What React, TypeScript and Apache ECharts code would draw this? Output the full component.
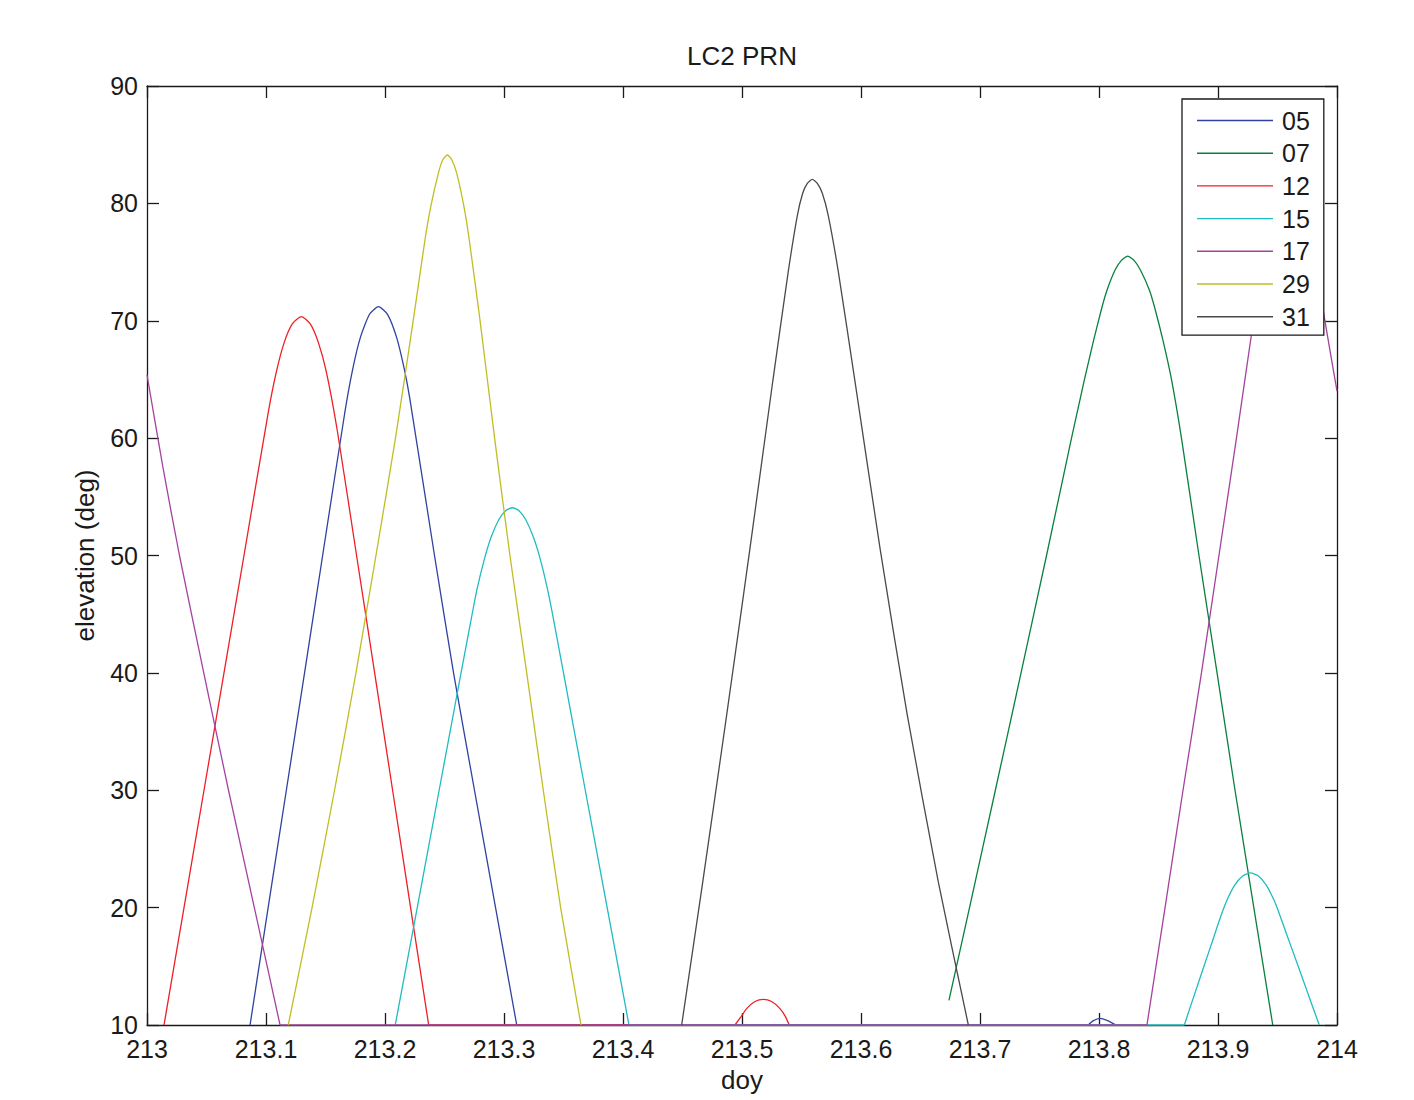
import React, { useEffect, useRef } from 'react';
import * as echarts from 'echarts';

// Satellite PRN labels and their line colours
const prnNames = ['05', '07', '12', '15', '17', '29', '31'];
const prnColors = ['#2f42a0', '#08803f', '#ee1f26', '#1fbcc0', '#a5429f', '#c0be22', '#4a4a4a'];

// Elevation (deg) against day of year, as [doy, elevation]; one list per visible pass
const prn05a: [number, number][] = [
  [213.0866, 10], [213.1018, 20], [213.1171, 30], [213.1324, 40], [213.1476, 50],
  [213.1661, 62.1], [213.1727, 65.8], [213.1794, 68.6], [213.187, 70.55], [213.1945, 71.2],
  [213.2021, 70.55], [213.2097, 68.6], [213.2164, 65.8], [213.2208, 63.4], [213.2416, 50],
  [213.2576, 40], [213.2752, 30], [213.2929, 20], [213.3107, 10],
];
const prn05b: [number, number][] = [
  [213.791, 10], [213.795, 10.35], [213.8008, 10.57], [213.8067, 10.4], [213.8143, 10],
];
const prn07a: [number, number][] = [
  [213.6739, 12.09], [213.6912, 20], [213.7129, 30], [213.7345, 40], [213.7559, 50],
  [213.7769, 60], [213.7878, 65], [213.7954, 68.3], [213.8021, 71], [213.8067, 72.6],
  [213.8134, 74.3], [213.8185, 75.1], [213.8241, 75.5], [213.8298, 75.1], [213.8349, 74.3],
  [213.8424, 72.6], [213.8471, 71], [213.8538, 68.3], [213.8609, 65], [213.8693, 60],
  [213.884, 50], [213.8992, 40], [213.9143, 30], [213.9301, 20], [213.946, 10],
];
const prn12a: [number, number][] = [
  [213.0143, 10], [213.0311, 20], [213.0479, 30], [213.0647, 40], [213.0815, 50],
  [213.1019, 62.2], [213.1087, 65.65], [213.1154, 68.18], [213.1221, 69.74], [213.1297, 70.35],
  [213.1372, 69.74], [213.1439, 68.18], [213.1507, 65.65], [213.1599, 60.65], [213.1761, 50],
  [213.1913, 40], [213.2064, 30], [213.2215, 20], [213.2367, 10],
];
const prn12b: [number, number][] = [
  [213.4941, 10], [213.4994, 10.74], [213.5039, 11.4], [213.5109, 12.0], [213.5179, 12.19],
  [213.5249, 12.0], [213.5319, 11.4], [213.5364, 10.74], [213.5397, 10],
];
const prn15a: [number, number][] = [
  [213.2086, 10], [213.2271, 20], [213.2455, 30], [213.2639, 40], [213.2729, 44.83],
  [213.2772, 47.07], [213.2832, 49.57], [213.2892, 51.57], [213.2957, 53.07], [213.3012, 53.8],
  [213.307, 54.07], [213.3128, 53.8], [213.3182, 53.07], [213.3247, 51.57], [213.3308, 49.57],
  [213.3367, 47.07], [213.3411, 44.83], [213.35, 40], [213.3683, 30], [213.3867, 20],
  [213.405, 10],
];
const prn15b: [number, number][] = [
  [213.8717, 10], [213.8799, 12.5], [213.8882, 15], [213.8965, 17.5], [213.9019, 19.13],
  [213.9074, 20.6], [213.9139, 21.9], [213.9207, 22.7], [213.9273, 22.96], [213.934, 22.7],
  [213.9407, 21.9], [213.9472, 20.6], [213.951, 19.62], [213.9585, 17.5], [213.9674, 15],
  [213.9762, 12.5], [213.9851, 10],
];
const prn17a: [number, number][] = [
  [213.0, 65.4], [213.0134, 57.5], [213.0273, 50], [213.0477, 40], [213.0685, 30],
  [213.0902, 20], [213.1118, 10],
];
const prn17b: [number, number][] = [
  [213.8403, 10], [213.8555, 20], [213.8706, 30], [213.8861, 40], [213.9008, 50],
  [213.9155, 60], [213.9298, 70], [213.942, 78], [213.9513, 82.5], [213.9597, 84],
  [213.9681, 82.5], [213.9773, 78], [213.9895, 70.2], [214.0, 64],
];
const prn29a: [number, number][] = [
  [213.1187, 10], [213.1387, 20], [213.1576, 30], [213.1756, 40], [213.1924, 50],
  [213.2088, 60], [213.2238, 70.07], [213.2336, 76.9], [213.2384, 79.7], [213.2448, 82.56],
  [213.2485, 83.7], [213.2524, 84.12], [213.2562, 83.7], [213.2603, 82.56], [213.2664, 79.7],
  [213.2708, 76.9], [213.2798, 70.07], [213.2921, 60], [213.305, 50], [213.3191, 40],
  [213.333, 30], [213.3476, 20], [213.3647, 10],
];
const prn31a: [number, number][] = [
  [213.4493, 10], [213.467, 22.17], [213.4871, 36.4], [213.5067, 50.6], [213.5258, 64.8],
  [213.5389, 74.2], [213.5465, 78.96], [213.551, 80.86], [213.5549, 81.7], [213.5591, 82.04],
  [213.5633, 81.7], [213.5675, 80.86], [213.5725, 78.96], [213.5809, 74.2], [213.595, 64.8],
  [213.616, 50.6], [213.6389, 36.4], [213.665, 22.17], [213.6902, 10],
];
const prnPasses = [
  [prn05a, prn05b],
  [prn07a],
  [prn12a, prn12b],
  [prn15a, prn15b],
  [prn17a, prn17b],
  [prn29a],
  [prn31a],
];

// Axis ranges and tick spacing
const xMin = 213;
const xMax = 214;
const xStep = 0.1;
const yMin = 10;
const yMax = 90;
const yStep = 10;

const FONT = '"Liberation Sans", Arial, Helvetica, sans-serif';
const INK = '#1a1a1a';

function buildSeries() {
  const out: any[] = [];
  prnNames.forEach((name, i) => {
    const color = prnColors[i];
    const base = {
      name,
      type: 'line',
      xAxisIndex: 0,
      yAxisIndex: 0,
      symbol: 'none',
      showSymbol: false,
      clip: false,
      color,
      lineStyle: { color, width: 1.3 },
    };
    const passes = prnPasses[i];
    passes.forEach((pass, k) => {
      // curved pass above the mask
      out.push({ ...base, data: pass, smooth: 0.2 });
      // straight join along the mask to the next pass
      if (k < passes.length - 1) {
        const next = passes[k + 1];
        out.push({ ...base, data: [pass[pass.length - 1], next[0]], smooth: false });
      }
    });
  });
  return out;
}

export default function App() {
  const ref = useRef<HTMLDivElement>(null);

  useEffect(() => {
    if (!ref.current) return;
    const chart = echarts.init(ref.current, undefined, { renderer: 'svg' });

    const axisLine = { show: true, onZero: false, lineStyle: { color: INK, width: 1.3 } };
    const axisTick = { show: true, inside: true, length: 12, lineStyle: { color: INK, width: 1.3 } };

    chart.setOption({
      animation: false,
      backgroundColor: '#ffffff',
      grid: { left: 147, right: 77, top: 86, bottom: 75, containLabel: false },
      graphic: [
        {
          type: 'text',
          x: 742,
          y: 56,
          style: {
            text: 'LC2 PRN',
            align: 'center',
            verticalAlign: 'middle',
            fontSize: 26,
            fontFamily: FONT,
            fill: INK,
          },
        },
      ],
      legend: {
        orient: 'vertical',
        left: 1182,
        top: 99,
        padding: [9, 14, 6, 15],
        icon: 'rect',
        itemWidth: 76,
        itemHeight: 1.4,
        itemGap: 7.7,
        backgroundColor: '#ffffff',
        borderColor: INK,
        borderWidth: 1.3,
        borderRadius: 0,
        data: prnNames,
        textStyle: { fontSize: 25, lineHeight: 24, fontFamily: FONT, color: INK, padding: [0, 0, 0, 4] },
        z: 10,
      },
      xAxis: [
        {
          type: 'value',
          position: 'bottom',
          min: xMin,
          max: xMax,
          interval: xStep,
          axisLine,
          axisTick,
          splitLine: { show: false },
          axisLabel: {
            margin: 11,
            fontSize: 25,
            fontFamily: FONT,
            color: INK,
            showMinLabel: true,
            showMaxLabel: true,
            formatter: (v: number) => String(Math.round(v * 10) / 10),
          },
          name: 'doy',
          nameLocation: 'middle',
          nameGap: 42,
          nameTextStyle: { fontSize: 26, fontFamily: FONT, color: INK },
        },
        {
          type: 'value',
          position: 'top',
          min: xMin,
          max: xMax,
          interval: xStep,
          axisLine,
          axisTick,
          splitLine: { show: false },
          axisLabel: { show: false },
        },
      ],
      yAxis: [
        {
          type: 'value',
          position: 'left',
          min: yMin,
          max: yMax,
          interval: yStep,
          axisLine,
          axisTick,
          splitLine: { show: false },
          axisLabel: { margin: 9, fontSize: 25, fontFamily: FONT, color: INK },
          name: 'elevation (deg)',
          nameLocation: 'middle',
          nameGap: 49,
          nameRotate: 90,
          nameTextStyle: { fontSize: 26, fontFamily: FONT, color: INK },
        },
        {
          type: 'value',
          position: 'right',
          min: yMin,
          max: yMax,
          interval: yStep,
          axisLine,
          axisTick,
          splitLine: { show: false },
          axisLabel: { show: false },
        },
      ],
      series: buildSeries(),
    });

    return () => chart.dispose();
  }, []);

  return (
    <div
      ref={ref}
      style={{ position: 'absolute', left: 0, top: 0, width: 1414, height: 1100 }}
    />
  );
}
